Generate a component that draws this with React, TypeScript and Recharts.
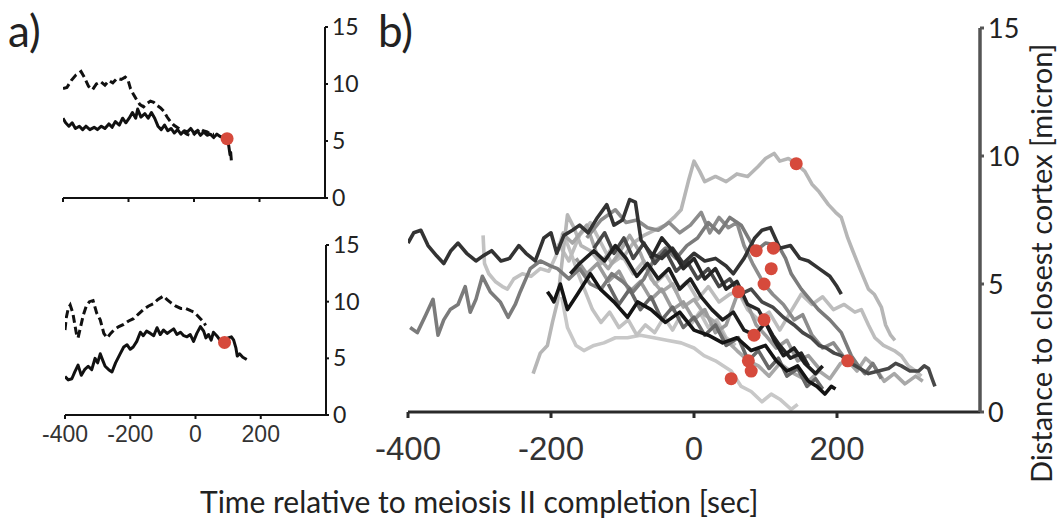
import { ComposedChart, Line, Scatter, XAxis, YAxis } from 'recharts';

type Pt = [number, number];

const xTicks = [-400, -200, 0, 200];
const yTicks = [0, 5, 10, 15];

// panel a, top cell
const aTopSolid: Pt[] = [
  [-400, 7.0], [-392, 6.6], [-382, 6.3], [-372, 6.6], [-362, 6.1], [-350, 6.3], [-340, 6.0], [-330, 6.3],
  [-318, 6.0], [-305, 6.2], [-295, 6.0], [-283, 6.3], [-272, 6.1], [-260, 6.5], [-250, 6.2], [-240, 6.7],
  [-228, 6.4], [-218, 7.0], [-208, 6.6], [-198, 7.0], [-188, 7.5], [-178, 7.0], [-172, 7.8], [-162, 7.1],
  [-150, 7.4], [-140, 7.0], [-130, 7.5], [-120, 7.0], [-110, 6.3], [-100, 6.0], [-90, 6.4], [-80, 5.9],
  [-70, 6.1], [-60, 5.7], [-50, 6.0], [-40, 5.6], [-30, 5.9], [-20, 5.8], [-10, 6.1], [0, 5.7], [10, 5.9],
  [20, 5.5], [30, 5.8], [40, 5.5], [50, 5.6], [60, 5.3], [70, 5.6], [80, 5.4], [92, 5.3], [101, 5.2],
  [106, 4.6], [110, 3.8], [112, 4.0], [114, 3.3],
];
const aTopDashed: Pt[] = [
  [-400, 9.6], [-388, 9.7], [-375, 10.3], [-360, 10.8], [-345, 11.1], [-335, 10.6], [-322, 9.8], [-310, 9.5],
  [-298, 10.0], [-285, 10.2], [-272, 9.9], [-260, 10.3], [-248, 10.1], [-235, 10.5], [-222, 10.4], [-210, 10.6],
  [-202, 10.4], [-194, 9.6], [-185, 9.1], [-175, 8.6], [-165, 8.2], [-154, 8.0], [-143, 8.3], [-133, 8.5],
  [-123, 8.4], [-112, 8.1], [-102, 7.9], [-92, 7.6], [-82, 7.1], [-72, 6.7], [-62, 6.4], [-52, 6.2], [-42, 6.0],
  [-32, 5.8], [-22, 5.6], [-12, 5.5], [-3, 5.5], [8, 5.8], [18, 6.1], [28, 5.9], [40, 5.8], [50, 5.6], [61, 5.6],
];
const aTopDot: Pt[] = [[101, 5.2]];

// panel a, bottom cell
const aBotSolid: Pt[] = [
  [-400, 3.4], [-390, 3.1], [-379, 3.2], [-370, 3.8], [-360, 4.4], [-350, 3.5], [-340, 4.0], [-329, 4.3],
  [-318, 4.0], [-308, 5.0], [-300, 4.6], [-292, 5.4], [-284, 4.8], [-277, 4.3], [-266, 4.0], [-256, 3.8],
  [-245, 4.6], [-231, 5.4], [-220, 6.0], [-210, 6.2], [-200, 5.8], [-191, 6.0], [-180, 6.5], [-169, 7.3],
  [-160, 7.0], [-150, 7.4], [-138, 7.2], [-128, 7.0], [-118, 7.7], [-108, 7.1], [-98, 7.5], [-87, 7.2],
  [-77, 7.4], [-67, 7.6], [-57, 7.1], [-46, 7.3], [-36, 7.0], [-26, 6.9], [-16, 7.1], [-6, 6.5], [4, 7.2],
  [15, 7.8], [25, 7.4], [32, 6.8], [40, 7.1], [48, 6.6], [55, 7.3], [65, 7.0], [75, 6.6], [89, 6.4],
  [100, 6.8], [110, 6.9], [117, 6.6], [124, 5.9], [128, 5.2], [135, 5.4], [145, 5.1], [157, 4.9],
];
const aBotDashed: Pt[] = [
  [-400, 7.5], [-396, 8.6], [-390, 9.4], [-384, 9.7], [-376, 9.0], [-370, 8.0], [-364, 7.0], [-360, 6.8],
  [-352, 7.8], [-344, 8.8], [-335, 9.6], [-325, 10.0], [-314, 10.1], [-303, 9.0], [-292, 8.4], [-281, 7.2],
  [-271, 6.8], [-260, 7.2], [-250, 7.5], [-235, 7.8], [-220, 8.0], [-205, 8.3], [-190, 8.5], [-175, 8.9],
  [-160, 9.3], [-145, 9.6], [-130, 9.8], [-115, 10.2], [-98, 10.5], [-88, 10.2], [-75, 9.9], [-60, 9.6],
  [-45, 9.4], [-30, 9.4], [-15, 9.2], [-6, 9.1], [5, 8.8], [15, 8.5], [25, 8.2], [31, 7.9],
];
const aBotDot: Pt[] = [[89, 6.4]];

// panel b, individual traces
const bTrace1: Pt[] = [
  [-400, 6.6], [-392, 7.0], [-382, 7.1], [-372, 6.5], [-360, 6.1], [-350, 5.8], [-340, 6.3], [-330, 6.6],
  [-318, 6.2], [-305, 5.9], [-295, 6.1], [-283, 6.3], [-270, 5.9], [-258, 6.0], [-245, 6.5], [-235, 6.2],
  [-222, 5.9], [-210, 6.8], [-200, 7.0], [-192, 6.2], [-182, 6.9], [-170, 7.1], [-160, 7.3], [-148, 7.0],
  [-135, 7.6], [-122, 8.1], [-112, 7.3], [-100, 7.5], [-90, 8.3], [-82, 8.2], [-74, 6.7], [-60, 6.2],
  [-45, 6.0], [-30, 6.4], [-15, 5.8], [0, 6.2], [15, 5.9], [30, 6.0], [45, 5.7], [55, 5.4], [70, 6.0],
  [85, 6.8], [95, 7.1], [107, 7.2], [120, 6.4], [135, 6.5], [148, 6.0], [160, 5.9], [175, 5.6], [190, 5.3],
  [200, 4.9], [206, 4.6],
];
const bTrace2: Pt[] = [
  [-225, 1.5], [-215, 2.3], [-205, 2.6], [-198, 3.5], [-191, 4.3], [-184, 6.0], [-177, 7.7], [-168, 7.2],
  [-158, 6.5], [-145, 6.3], [-130, 5.8], [-115, 6.4], [-100, 6.0], [-85, 6.6], [-70, 6.9], [-55, 7.1],
  [-40, 7.3], [-28, 7.6], [-18, 7.9], [-8, 9.0], [0, 9.8], [8, 9.4], [15, 9.0], [30, 9.2], [45, 9.0],
  [60, 9.3], [75, 9.2], [90, 9.6], [100, 9.9], [112, 10.1], [120, 9.8], [132, 9.9], [143, 9.7], [155, 9.4],
  [165, 8.9], [175, 8.6], [188, 8.1], [198, 7.8], [206, 7.6], [215, 6.8], [222, 6.3], [232, 5.6],
  [244, 4.8], [252, 4.6], [262, 4.1], [268, 3.4], [275, 3.0], [281, 2.8],
];
const bTrace3: Pt[] = [
  [-397, 3.3], [-387, 3.1], [-375, 3.8], [-365, 4.4], [-358, 3.0], [-350, 3.6], [-341, 4.0], [-330, 4.2],
  [-320, 4.9], [-313, 3.9], [-305, 4.4], [-296, 5.3], [-285, 4.7], [-271, 4.3], [-260, 3.7], [-250, 4.2],
  [-243, 4.7], [-229, 5.6], [-215, 5.9], [-200, 5.7], [-191, 5.6], [-175, 5.2], [-160, 5.6], [-145, 5.0],
  [-130, 4.8], [-115, 5.4], [-100, 5.1], [-85, 4.7], [-70, 5.2], [-55, 6.0], [-40, 6.4], [-25, 6.0],
  [-10, 6.5], [5, 6.8], [20, 7.4], [35, 7.0], [50, 7.6], [66, 7.3], [78, 6.7], [87, 6.3], [100, 6.6],
  [118, 6.5], [128, 6.0], [136, 5.4], [150, 4.8], [162, 4.4], [174, 4.0], [190, 3.6], [206, 3.1],
  [220, 2.2], [230, 1.8], [239, 1.5], [250, 1.9], [262, 1.3],
];
const bTrace4: Pt[] = [
  [-140, 6.4], [-125, 7.0], [-112, 6.2], [-98, 6.8], [-85, 6.0], [-70, 6.6], [-55, 5.8], [-40, 6.3],
  [-25, 5.5], [-10, 5.9], [5, 5.2], [20, 5.6], [35, 4.9], [50, 5.2], [65, 4.6], [80, 4.8], [95, 4.3],
  [110, 4.1], [125, 3.7], [140, 3.4], [152, 3.1], [164, 2.9], [175, 2.6], [185, 2.5], [196, 2.3], [206, 2.2],
  [220, 1.9], [232, 1.7], [244, 1.5], [258, 1.6], [272, 1.7], [282, 1.9], [290, 1.8], [302, 1.6],
  [314, 1.6], [322, 1.8], [328, 1.7], [333, 1.3], [337, 1.0],
];
const bTrace5: Pt[] = [
  [-205, 4.7], [-200, 4.5], [-196, 4.3], [-187, 5.0], [-177, 4.0], [-163, 4.6], [-145, 5.4], [-131, 4.8],
  [-112, 4.3], [-93, 3.7], [-79, 4.3], [-60, 4.0], [-40, 3.5], [-20, 3.9], [0, 3.2], [20, 3.0], [40, 2.7],
  [60, 2.9], [80, 2.4], [100, 2.6], [115, 2.0], [130, 1.6], [145, 1.8], [160, 1.2], [172, 1.0], [183, 0.7],
  [192, 1.0], [198, 0.9],
];
const bTrace6: Pt[] = [
  [-173, 5.4], [-160, 5.8], [-140, 6.3], [-125, 5.9], [-110, 6.5], [-95, 6.0], [-80, 5.3], [-65, 5.8],
  [-50, 5.2], [-35, 5.6], [-20, 4.8], [-5, 5.2], [10, 4.5], [25, 4.0], [40, 3.6], [55, 3.9], [70, 3.2],
  [85, 3.0], [100, 3.5], [112, 2.8], [125, 2.2], [140, 2.5], [155, 1.9], [170, 1.5], [180, 1.8],
];
const bTrace7: Pt[] = [
  [-185, 4.5], [-177, 3.3], [-165, 2.6], [-154, 2.4], [-140, 2.6], [-126, 2.7], [-110, 2.9], [-93, 2.9],
  [-75, 3.0], [-56, 2.9], [-38, 2.8], [-18, 2.7], [0, 2.5], [14, 2.2], [30, 2.0], [52, 1.6], [66, 1.0],
  [80, 0.8], [95, 0.4], [108, 0.7], [120, 0.5], [136, 0.1], [145, 0.3],
];
const bTrace8: Pt[] = [
  [-185, 7.0], [-170, 6.6], [-150, 7.3], [-135, 6.1], [-120, 5.6], [-105, 6.2], [-90, 6.9], [-75, 6.2],
  [-60, 5.2], [-45, 4.7], [-30, 5.0], [-15, 4.1], [0, 4.4], [15, 3.8], [30, 3.5], [45, 2.8], [60, 2.4],
  [76, 2.0], [90, 1.8], [105, 1.4], [120, 1.9], [140, 1.5], [160, 1.2], [175, 1.6], [190, 1.3], [205, 1.9],
  [215, 2.0], [228, 1.6], [240, 2.1], [252, 1.8], [266, 1.2], [280, 1.5], [295, 1.1], [310, 1.4], [320, 1.2],
];
const bTrace9: Pt[] = [
  [-150, 6.8], [-130, 7.5], [-110, 7.9], [-95, 7.4], [-80, 7.5], [-65, 7.2], [-50, 7.1], [-35, 7.4],
  [-20, 7.0], [-5, 7.3], [10, 7.8], [22, 7.0], [35, 7.6], [48, 7.2], [60, 7.4], [70, 6.5], [82, 5.8],
  [98, 5.0], [110, 4.6], [125, 4.2], [140, 3.6], [152, 3.8], [165, 3.0], [180, 2.5], [195, 2.7], [208, 2.2],
  [220, 2.0],
];
const bTrace10: Pt[] = [
  [-120, 5.0], [-105, 4.2], [-90, 4.8], [-75, 4.0], [-60, 4.5], [-45, 3.6], [-30, 4.1], [-15, 3.3], [0, 3.7],
  [15, 3.0], [30, 3.4], [45, 2.6], [62, 2.9], [76, 2.0], [90, 2.4], [105, 1.7], [118, 2.1], [130, 1.4],
  [145, 1.7], [158, 1.0], [170, 1.3], [180, 0.9],
];
const bTrace11: Pt[] = [
  [-190, 6.6], [-175, 5.9], [-160, 6.9], [-145, 7.4], [-130, 6.6], [-115, 5.8], [-100, 6.1], [-85, 5.4],
  [-70, 5.9], [-55, 5.0], [-40, 5.4], [-25, 4.7], [-10, 5.1], [5, 4.4], [20, 4.9], [35, 4.3], [50, 4.6],
  [62, 4.7], [75, 4.0], [90, 3.6], [105, 3.9], [120, 3.2], [135, 3.9], [150, 4.6], [165, 4.2], [180, 4.5],
  [195, 4.0], [210, 4.2], [225, 3.9], [234, 4.0], [244, 3.4], [253, 2.9], [265, 2.6], [280, 2.4],
  [290, 2.2], [300, 1.8], [310, 1.6], [318, 1.4],
];
const bTrace12: Pt[] = [
  [-60, 6.0], [-45, 6.8], [-30, 6.3], [-15, 5.6], [0, 6.0], [15, 5.2], [30, 5.6], [45, 4.8], [60, 5.1],
  [75, 4.2], [90, 4.0], [98, 3.6], [110, 3.0], [120, 2.6], [135, 2.1], [150, 2.3], [160, 1.8],
];
const bTrace13: Pt[] = [
  [-165, 6.0], [-150, 5.4], [-135, 5.8], [-120, 5.1], [-105, 5.5], [-90, 4.7], [-75, 5.1], [-60, 4.4],
  [-45, 4.8], [-30, 4.0], [-15, 4.3], [0, 3.6], [15, 4.0], [30, 3.1], [45, 3.4], [62, 4.7], [75, 4.2],
  [87, 3.4], [100, 3.0], [115, 2.5], [130, 2.8], [145, 2.0], [160, 2.2], [175, 1.7],
];
const bTrace14: Pt[] = [
  [-295, 6.9], [-293, 5.8], [-287, 5.4], [-278, 5.1], [-268, 4.9], [-261, 4.8], [-252, 5.2], [-240, 5.4],
  [-228, 5.3], [-215, 5.6], [-203, 5.5], [-193, 6.1], [-183, 7.0], [-172, 6.2], [-162, 5.4], [-152, 4.7],
  [-142, 4.0], [-130, 3.5], [-118, 3.9], [-105, 3.3], [-92, 3.6], [-80, 3.0], [-68, 3.4], [-55, 3.1],
  [-42, 3.7], [-30, 3.2], [-18, 3.8], [-5, 3.4], [8, 3.9], [20, 3.3], [32, 3.6], [45, 2.9], [58, 2.6],
];
const bDots: Pt[] = [
  [143, 9.7], [87, 6.3], [111, 6.4], [108, 5.6], [98, 5.0], [62, 4.7], [98, 3.6], [84, 3.0],
  [76, 2.0], [80, 1.6], [52, 1.3], [215, 2.0],
];

// drawing order: light traces first, dark ones on top
const bSeries = [
  { pts: bTrace7, color: '#c8c8c8' },
  { pts: bTrace14, color: '#c2c2c2' },
  { pts: bTrace11, color: '#bdbdbd' },
  { pts: bTrace2, color: '#b6b6b6' },
  { pts: bTrace8, color: '#a8a8a8' },
  { pts: bTrace13, color: '#9b9b9b' },
  { pts: bTrace9, color: '#8c8c8c' },
  { pts: bTrace3, color: '#7b7b7b' },
  { pts: bTrace10, color: '#686868' },
  { pts: bTrace4, color: '#484848' },
  { pts: bTrace1, color: '#333333' },
  { pts: bTrace12, color: '#262626' },
  { pts: bTrace6, color: '#1e1e1e' },
  { pts: bTrace5, color: '#141414' },
];

const rows = (pts: Pt[]) => pts.map(([t, y]) => ({ t, y }));

const RED = '#d64a3c';
const myriad = 'Lato, "Open Sans", sans-serif';
const helv = '"Liberation Sans", Arial, sans-serif';

const dot = (r: number) => (p: any) => <circle cx={p.cx} cy={p.cy} r={r} fill={RED} />;

function SmallPanel({ top, height, marginTop, left, right, xh, solid, dashed, dots, labels }: any) {
  return (
    <div style={{ position: 'absolute', left: 0, top }}>
      <ComposedChart width={390} height={height} margin={{ top: marginTop, left, right, bottom: 0 }}>
        <XAxis
          type="number"
          dataKey="t"
          domain={[-400, 400]}
          ticks={xTicks}
          height={xh}
          allowDataOverflow
          axisLine={{ stroke: '#111', strokeWidth: 2 }}
          tickLine={{ stroke: '#111', strokeWidth: 2 }}
          tickSize={4}
          tickMargin={7}
          tickFormatter={labels ? undefined : () => ''}
          tick={{ fontSize: 23, fill: '#333', fontFamily: helv }}
        />
        <YAxis
          orientation="right"
          type="number"
          dataKey="y"
          domain={[0, 15]}
          ticks={yTicks}
          width={60}
          allowDataOverflow
          axisLine={{ stroke: '#111', strokeWidth: 2 }}
          tickLine={{ stroke: '#111', strokeWidth: 2 }}
          tickSize={3}
          tickMargin={4}
          tick={{ fontSize: 23, fill: '#222', fontFamily: myriad, textAnchor: 'start' }}
        />
        <Line data={rows(dashed)} dataKey="y" stroke="#111" strokeWidth={3} strokeDasharray="8 4" dot={false} isAnimationActive={false} />
        <Line data={rows(solid)} dataKey="y" stroke="#111" strokeWidth={3} strokeLinejoin="round" dot={false} isAnimationActive={false} />
        <Scatter data={rows(dots)} dataKey="y" shape={dot(6.5)} isAnimationActive={false} />
      </ComposedChart>
    </div>
  );
}

export default function App() {
  return (
    <div style={{ position: 'absolute', left: 0, top: 0, width: 1060, height: 520, background: '#fff', overflow: 'hidden' }}>
      <SmallPanel top={0} height={240} marginTop={27} left={63} right={5} xh={42} solid={aTopSolid} dashed={aTopDashed} dots={aTopDot} labels={false} />
      <SmallPanel top={220} height={260} marginTop={25} left={65} right={4} xh={65} solid={aBotSolid} dashed={aBotDashed} dots={aBotDot} labels />

      <div style={{ position: 'absolute', left: 0, top: 0 }}>
        <ComposedChart width={1060} height={520} margin={{ top: 28, left: 408, right: 0, bottom: 0 }}>
          <XAxis
            type="number"
            dataKey="t"
            domain={[-400, 400]}
            ticks={xTicks}
            height={108}
            allowDataOverflow
            axisLine={{ stroke: '#2a2a2a', strokeWidth: 3 }}
            tickLine={{ stroke: '#2a2a2a', strokeWidth: 3 }}
            tickSize={6}
            tickMargin={19}
            tick={{ fontSize: 33, fill: '#333', fontFamily: helv }}
          />
          <YAxis
            orientation="right"
            type="number"
            dataKey="y"
            domain={[0, 15]}
            ticks={yTicks}
            width={80}
            allowDataOverflow
            axisLine={{ stroke: '#555', strokeWidth: 3.5 }}
            tickLine={{ stroke: '#555', strokeWidth: 3 }}
            tickSize={4}
            tickMargin={4}
            tick={{ fontSize: 27, fill: '#222', fontFamily: myriad, textAnchor: 'start' }}
          />
          {bSeries.map((s, i) => (
            <Line
              key={i}
              data={rows(s.pts)}
              dataKey="y"
              stroke={s.color}
              strokeWidth={3.6}
              strokeLinejoin="round"
              dot={false}
              isAnimationActive={false}
            />
          ))}
          <Scatter data={rows(bDots)} dataKey="y" shape={dot(6.5)} isAnimationActive={false} />
        </ComposedChart>
      </div>

      <div style={{ position: 'absolute', left: 8, top: 6, fontFamily: myriad, fontSize: 44, lineHeight: '48px', color: '#222' }}>a)</div>
      <div style={{ position: 'absolute', left: 378, top: 6, fontFamily: myriad, fontSize: 44, lineHeight: '48px', color: '#222' }}>b)</div>
      <div style={{ position: 'absolute', left: 200, top: 485, fontFamily: myriad, fontSize: 30, lineHeight: '32px', color: '#222', whiteSpace: 'nowrap' }}>
        Time relative to meiosis II completion [sec]
      </div>
      <div
        style={{
          position: 'absolute',
          left: 1025,
          top: 18,
          height: 490,
          width: 32,
          writingMode: 'vertical-rl',
          transform: 'rotate(180deg)',
          textAlign: 'center',
          fontFamily: myriad,
          fontSize: 29,
          lineHeight: '32px',
          color: '#222',
          whiteSpace: 'nowrap',
        }}
      >
        Distance to closest cortex [micron]
      </div>
    </div>
  );
}
